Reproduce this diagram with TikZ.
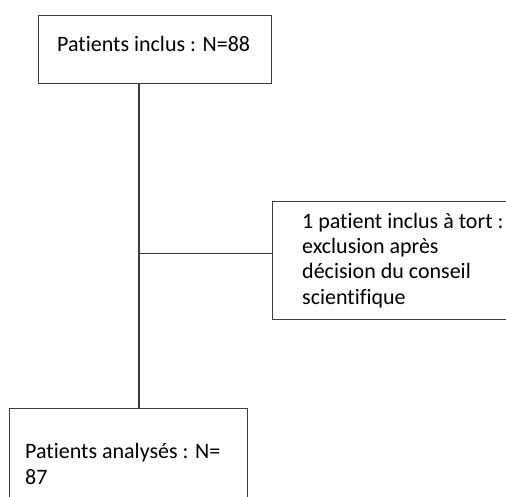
\documentclass[tikz,border=0pt]{standalone}
\usepackage{fontspec}
\setmainfont{Carlito}[Ligatures={NoCommon}]
\usetikzlibrary{calc}
\definecolor{linegray}{HTML}{3C3C3C}
\begin{document}
\begin{tikzpicture}[x=1bp,y=-1bp,
  box/.style={draw=linegray, line width=1.4bp, rectangle, inner sep=0pt, anchor=north west},
  txt/.style={font=\fontsize{22bp}{25.3bp}\selectfont, inner sep=0pt, align=left, anchor=base west, text=black},
  link/.style={draw=linegray, line width=1.4bp}]
\useasboundingbox (0,0) rectangle (506,497);
\node[box, minimum width=233bp, minimum height=68bp] (top) at (38,15) {};
\node[box, minimum width=250bp, minimum height=118bp] (excl) at (272,201) {};
\node[box, minimum width=238bp, minimum height=110bp] (ana) at (9,408) {};
\coordinate (stem) at ($(top.south west)+(101,0)$);
\draw[link] (stem) -- (stem |- ana.north);
\coordinate (br) at ($(excl.west)+(0,-7)$);
\draw[link] (br) -- (br -| stem);
\node[txt] (t1) at (57,52) {Patients inclus : N=88};
\node[txt] (t2) at (302,304) {1 patient inclus à tort :\\exclusion après\\décision du conseil\\scientifique};
\node[txt] (t3) at (25,484) {Patients analysés : N=\\87};
\end{tikzpicture}
\end{document}
